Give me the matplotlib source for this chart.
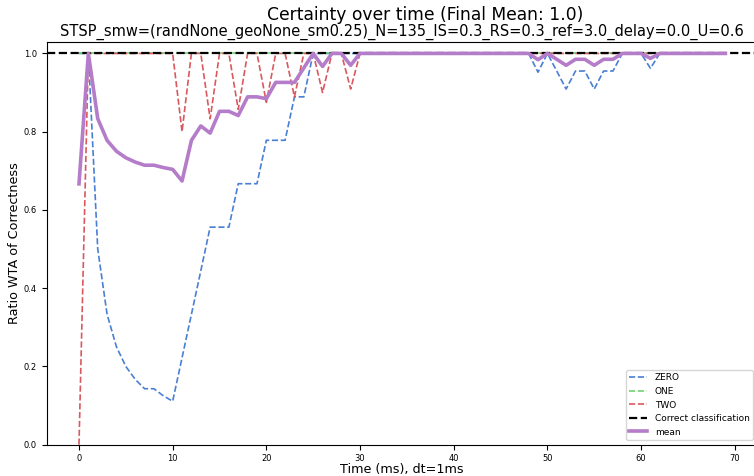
import matplotlib
matplotlib.use("Agg")
import matplotlib.pyplot as plt
import numpy as np

time_ms = list(range(70))

zero = [1.0, 1.0, 0.5, 0.333, 0.25, 0.2, 0.167, 0.143, 0.143, 0.125,
        0.111, 0.222, 0.333, 0.444, 0.556, 0.556, 0.556, 0.667, 0.667, 0.667,
        0.778, 0.778, 0.778, 0.889, 0.889, 1.0, 1.0, 1.0, 1.0, 1.0,
        1.0, 1.0, 1.0, 1.0, 1.0, 1.0, 1.0, 1.0, 1.0, 1.0,
        1.0, 1.0, 1.0, 1.0, 1.0, 1.0, 1.0, 1.0, 1.0, 0.952,
        1.0, 0.955, 0.909, 0.955, 0.955, 0.909, 0.955, 0.955, 1.0, 1.0,
        1.0, 0.962, 1.0, 1.0, 1.0, 1.0, 1.0, 1.0, 1.0, 1.0]
one = [1.0] * 70
two = [0.0, 1.0, 1.0, 1.0, 1.0, 1.0, 1.0, 1.0, 1.0, 1.0,
       1.0, 0.8, 1.0, 1.0, 0.833, 1.0, 1.0, 0.857, 1.0, 1.0,
       0.875, 1.0, 1.0, 0.889, 1.0, 1.0, 0.9, 1.0, 1.0, 0.909,
       1.0, 1.0, 1.0, 1.0, 1.0, 1.0, 1.0, 1.0, 1.0, 1.0,
       1.0, 1.0, 1.0, 1.0, 1.0, 1.0, 1.0, 1.0, 1.0, 1.0,
       1.0, 1.0, 1.0, 1.0, 1.0, 1.0, 1.0, 1.0, 1.0, 1.0,
       1.0, 1.0, 1.0, 1.0, 1.0, 1.0, 1.0, 1.0, 1.0, 1.0]
mean = list((np.array(zero) + np.array(one) + np.array(two)) / 3.0)

series_labels = ["ZERO", "ONE", "TWO"]
series_colors = ["#4a7fd4", "#6fd36f", "#d9595f"]
x_ticks = [0, 10, 20, 30, 40, 50, 60, 70]
y_ticks = [0.0, 0.2, 0.4, 0.6, 0.8, 1.0]
title_main = "Certainty over time (Final Mean: 1.0)"
title_sub = "STSP_smw=(randNone_geoNone_sm0.25)_N=135_IS=0.3_RS=0.3_ref=3.0_delay=0.0_U=0.6"

fig = plt.figure(figsize=(7.54, 4.76), dpi=100)
ax = fig.add_axes([0.0619, 0.0658, 0.943, 0.8466])

for vals, lab, col in zip([zero, one, two], series_labels, series_colors):
    ax.plot(time_ms, vals, linestyle="--", color=col, linewidth=1.2, label=lab)
ax.axhline(1.0, color="black", linestyle="--", linewidth=1.6, label="Correct classification")
ax.plot(time_ms, mean, color="#b47cc9", linewidth=2.6, label="mean")

ax.set_xlim(-3.45, 72.45)
ax.set_ylim(0, 1.03)
ax.set_xticks(x_ticks)
ax.set_yticks(y_ticks)
ax.tick_params(labelsize=6)
ax.set_xlabel("Time (ms), dt=1ms", fontsize=9.2, labelpad=0)
ax.set_ylabel("Ratio WTA of Correctness", fontsize=9.2, labelpad=2)
ax.set_title(title_sub, fontsize=10.5, pad=4)
fig.text(0.5637, 1 - 15.5 / 476, title_main, fontsize=12.3, ha="center", va="center")
ax.legend(loc="lower right", fontsize=6.5)

fig.savefig("out.png", dpi=100)
